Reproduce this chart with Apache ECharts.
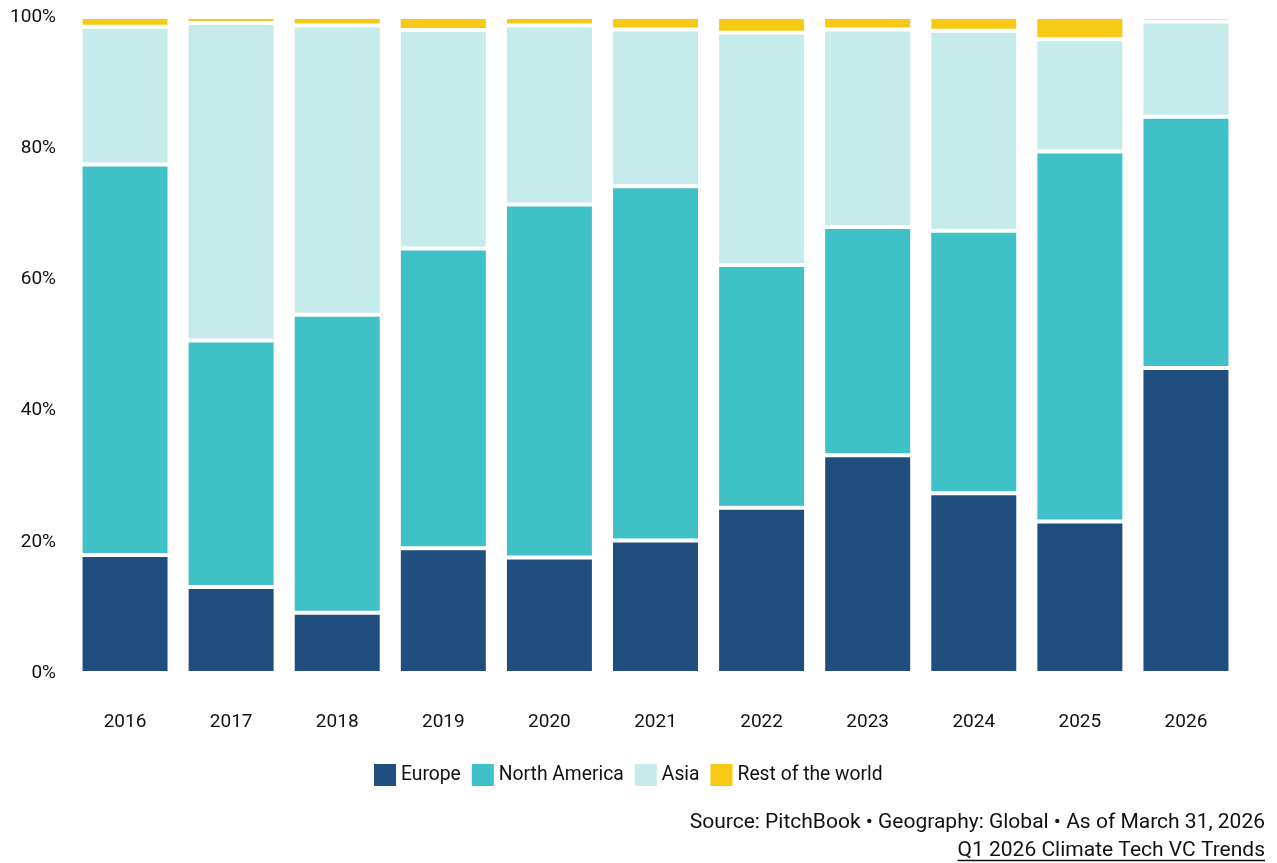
<!DOCTYPE html>
<html>
<head>
<meta charset="utf-8">
<script src="https://cdn.jsdelivr.net/npm/echarts@6/dist/echarts.min.js"></script>
<style>
html,body{margin:0;padding:0;background:#fff;}
#chart{width:1277px;height:863px;}
</style>
</head>
<body>
<div id="chart"></div>
<script>
const years = ['2016','2017','2018','2019','2020','2021','2022','2023','2024','2025','2026'];
const europe = [18.0, 13.1, 9.2, 19.0, 17.6, 20.2, 25.2, 33.2, 27.4, 23.1, 46.5];
const northAmerica = [59.5, 37.6, 45.4, 45.7, 53.8, 54.0, 37.0, 34.8, 40.0, 56.4, 38.3];
const asia = [21.0, 48.4, 44.1, 33.3, 27.3, 23.9, 35.4, 30.1, 30.5, 17.1, 14.5];
const restOfWorld = [1.5, 0.9, 1.3, 2.0, 1.3, 1.9, 2.4, 1.9, 2.1, 3.4, 0.7];
const yTicks = [0, 20, 40, 60, 80, 100];
const sourceText = 'Source: PitchBook \u2022 Geography: Global \u2022 As of March 31, 2026';
const linkText = 'Q1 2026 Climate Tech VC Trends';

const FONT = 'Roboto, "Noto Sans", sans-serif';
const chart = echarts.init(document.getElementById('chart'), null, {renderer: 'canvas'});

function mkSeries(name, data, color) {
  return {
    name: name,
    type: 'bar',
    stack: 'total',
    barWidth: 89,
    data: data,
    itemStyle: {color: color, borderColor: '#ffffff', borderWidth: 2},
    emphasis: {disabled: true}
  };
}

const ctx = document.createElement('canvas').getContext('2d');
ctx.font = '21px ' + FONT;
const linkW = ctx.measureText(linkText).width;

const option = {
  animation: false,
  backgroundColor: '#ffffff',
  textStyle: {fontFamily: FONT},
  grid: {left: 72, right: 38, top: 17, bottom: 190, containLabel: false},
  legend: {
    bottom: 72,
    left: 369,
    itemWidth: 22,
    itemHeight: 22,
    itemGap: 11,
    icon: 'rect',
    itemStyle: {borderWidth: 0},
    textStyle: {fontFamily: FONT, fontSize: 19.3, color: '#111'},
    data: ['Europe', 'North America', 'Asia', 'Rest of the world']
  },
  xAxis: {
    type: 'category',
    data: years,
    axisLine: {show: false},
    axisTick: {show: false},
    axisLabel: {fontFamily: FONT, fontSize: 19, color: '#111', margin: 40}
  },
  yAxis: {
    type: 'value',
    min: yTicks[0],
    max: yTicks[yTicks.length - 1],
    interval: 20,
    splitLine: {show: false},
    axisLine: {show: false},
    axisTick: {show: false},
    axisLabel: {fontFamily: FONT, fontSize: 19, color: '#111', margin: 16, formatter: '{value}%'}
  },
  series: [
    mkSeries('Europe', europe, '#1f4e7f'),
    mkSeries('North America', northAmerica, '#40c1c8'),
    mkSeries('Asia', asia, '#c5ecea'),
    mkSeries('Rest of the world', restOfWorld, '#f6c914')
  ],
  graphic: [
    {
      type: 'text',
      right: 12,
      top: 812,
      style: {text: sourceText, fontFamily: FONT, fontSize: 21, fill: '#111', textAlign: 'right'}
    },
    {
      type: 'text',
      right: 12,
      top: 840,
      style: {text: linkText, fontFamily: FONT, fontSize: 21, fill: '#111', textAlign: 'right'}
    },
    {
      type: 'line',
      shape: {x1: 1277 - 12 - linkW, y1: 860.5, x2: 1277 - 12, y2: 860.5},
      style: {stroke: '#111', lineWidth: 1.3}
    }
  ]
};
chart.setOption(option);
</script>
</body>
</html>
